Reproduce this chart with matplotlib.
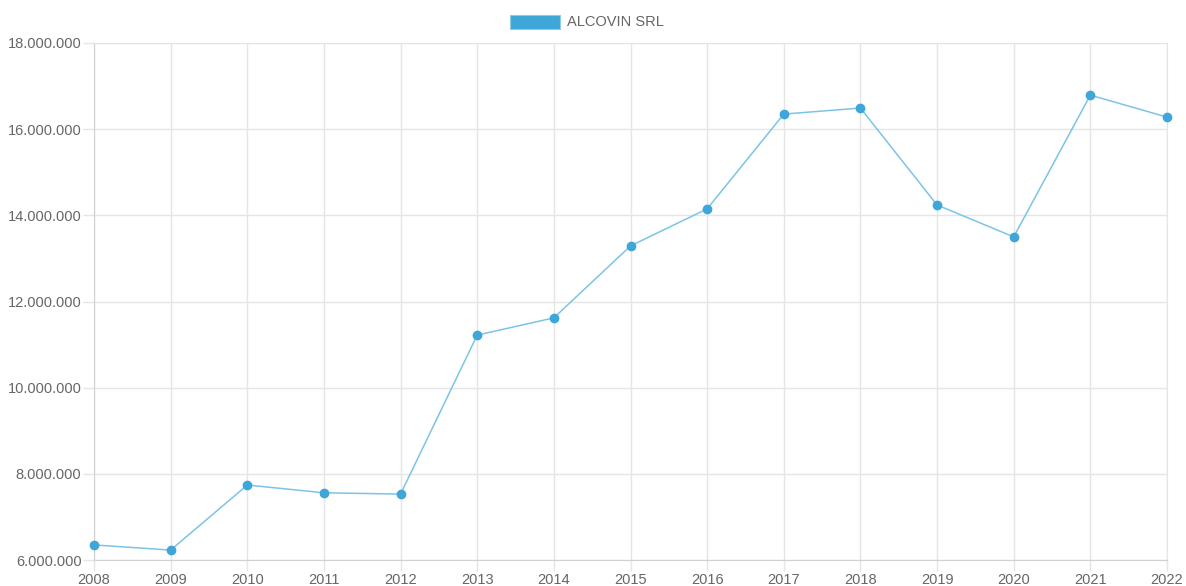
import matplotlib
matplotlib.use("Agg")
import matplotlib.pyplot as plt
from matplotlib.patches import Patch
from matplotlib.ticker import FuncFormatter

years = [2008, 2009, 2010, 2011, 2012, 2013, 2014, 2015, 2016, 2017, 2018, 2019, 2020, 2021, 2022]
values = [6350000, 6230000, 7740000, 7560000, 7530000, 11220000, 11620000, 13290000,
          14150000, 16350000, 16490000, 14240000, 13500000, 16790000, 16280000]
series_name = "ALCOVIN SRL"
y_ticks = [6000000, 8000000, 10000000, 12000000, 14000000, 16000000, 18000000]

plt.rcParams['font.family'] = ['Liberation Sans', 'DejaVu Sans']
text_color = '#666666'
grid_color = '#e5e5e5'
line_color = '#3ea6d8'

fig = plt.figure(figsize=(11.86, 5.86), dpi=100)
ax = fig.add_axes([94 / 1186, 26 / 586, (1167 - 94) / 1186, (560 - 43) / 586])

ax.plot(years, values, color='#7cc4e6', linewidth=1.1, zorder=3, clip_on=False)
ax.plot(years, values, linestyle='none', marker='o', markersize=6, clip_on=False,
        markerfacecolor=line_color, markeredgecolor=line_color, zorder=4)

ax.set_xlim(years[0], years[-1])
ax.set_ylim(y_ticks[0], y_ticks[-1])
ax.set_xticks(years)
ax.set_xticklabels([str(y) for y in years])
ax.set_yticks(y_ticks)
ax.yaxis.set_major_formatter(FuncFormatter(lambda v, p: f"{int(v):,}".replace(",", ".")))

ax.grid(True, color=grid_color, linewidth=1, zorder=0)
for s in ax.spines.values():
    s.set_color(grid_color)
ax.spines['left'].set_color('#d0d0d0')
ax.spines['bottom'].set_color('#d0d0d0')
ax.tick_params(axis='both', colors=grid_color, length=8, width=1, labelcolor=text_color,
               labelsize=10.5, pad=1)
ax.tick_params(axis='x', pad=1)

handle = Patch(facecolor=line_color, edgecolor='#8fcbe8', linewidth=0.8)
fig.legend([handle], [series_name], loc='center', bbox_to_anchor=(587 / 1186, 1 - 22 / 586),
           frameon=False, fontsize=10.5, labelcolor=text_color, handlelength=3.4,
           handleheight=1.1, handletextpad=0.5)

fig.savefig("out.png", dpi=100)
